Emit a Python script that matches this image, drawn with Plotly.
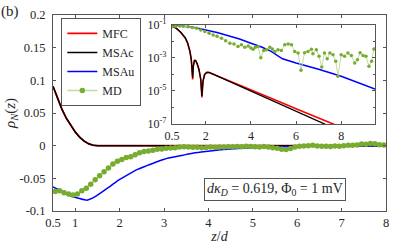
import plotly.graph_objects as go

# ---------------- main panel data ----------------
z_main = [0.5, 0.6, 0.7, 0.8, 0.9, 1.0, 1.1, 1.2, 1.3, 1.4, 1.5, 2, 3, 4, 5, 6, 7, 8]
mfc_main = [0.091, 0.072, 0.056, 0.042, 0.031, 0.021, 0.013, 0.007, 0.003, 0.0008, 0.0, 0, 0, 0, 0, 0, 0, 0]
msac_main = [0.091, 0.072, 0.056, 0.042, 0.031, 0.021, 0.013, 0.007, 0.003, 0.0008, 0.0, 0, 0, 0, 0, 0, 0, 0]

z_msau = [0.5, 0.7, 0.9, 1.1, 1.26, 1.4, 1.56, 1.75, 1.93, 2.15, 2.38, 2.6, 2.83, 3.1, 3.43,
          3.7, 4.04, 4.5, 5, 5.5, 6, 7, 8]
msau_main = [-0.063, -0.070, -0.077, -0.081, -0.0835, -0.080, -0.073, -0.064, -0.055, -0.046,
             -0.037, -0.031, -0.025, -0.019, -0.0145, -0.011, -0.008, -0.005, -0.003, -0.0015,
             -0.0008, -0.0003, -0.0001]

z_md = [0.55, 0.65, 0.75, 0.85, 0.95, 1.05, 1.15, 1.25, 1.35, 1.45, 1.55, 1.65, 1.75, 1.85, 1.95,
        2.05, 2.15, 2.25, 2.35, 2.45, 2.55, 2.65, 2.75, 2.85, 2.95, 3.05, 3.15, 3.25, 3.35, 3.45,
        3.55, 3.65, 3.75, 3.85, 3.95, 4.05, 4.15, 4.25, 4.35, 4.45, 4.55, 4.65, 4.75, 4.85, 4.95,
        5.05, 5.15, 5.25, 5.35, 5.45, 5.55, 5.65, 5.75, 5.85, 5.95, 6.05, 6.15, 6.25, 6.35, 6.45,
        6.55, 6.65, 6.75, 6.85, 6.95, 7.05, 7.15, 7.25, 7.35, 7.45, 7.55, 7.65, 7.75, 7.85, 7.95]
md_main = [-0.070, -0.069, -0.072, -0.074, -0.0757, -0.074, -0.069, -0.065, -0.059, -0.052,
           -0.046, -0.040, -0.034, -0.028, -0.024, -0.021, -0.018, -0.017, -0.014, -0.011,
           -0.009, -0.008, -0.007, -0.0055, -0.005, -0.004, -0.0035, -0.003, -0.002, -0.0018,
           -0.002, -0.0025, -0.0023, -0.003, -0.0028, -0.0022, -0.0025, -0.002, -0.0022, -0.0015,
           -0.0018, -0.0012, -0.0015, -0.001, -0.0012, -0.0015, -0.002, -0.0012, -0.002, -0.003,
           -0.004, -0.0055, -0.006, -0.0045, -0.002, -0.001, -0.0005, 0.0, 0.0005, -0.0005,
           -0.001, -0.0008, -0.0012, -0.0005, -0.001, -0.0003, 0.0005, 0.0008, 0.0012, 0.0025,
           0.002, 0.0035, 0.003, 0.0015, 0.001]

# ---------------- inset data (|rho_N|, log scale) ----------------
z_in_mfc = [0.5, 0.7, 0.9, 1.0, 1.1, 1.2, 1.3, 1.36, 1.40, 1.42, 1.45, 1.5, 1.55, 1.62, 1.7, 1.78,
            1.83, 1.88, 1.95, 2.05, 2.15, 3, 4, 5, 6, 7, 7.7]
in_mfc = [8.9e-2, 6.3e-2, 3.5e-2, 2.5e-2, 1.6e-2, 7.9e-3, 2.5e-3, 7.9e-4, 1.6e-4, 5.0e-5, 3.2e-4,
          7.1e-4, 7.1e-4, 4.5e-4, 2.0e-4, 5.0e-5, 4.0e-6, 4.0e-5, 1.0e-4, 1.35e-4, 1.32e-4,
          4.5e-5, 1.17e-5, 3.2e-6, 8.5e-7, 2.3e-7, 9.3e-8]
z_in_msac = [0.5, 0.7, 0.9, 1.0, 1.1, 1.2, 1.3, 1.36, 1.40, 1.42, 1.45, 1.5, 1.55, 1.62, 1.7, 1.78,
             1.83, 1.88, 1.95, 2.05, 2.15, 3, 4, 5, 6, 7, 7.3]
in_msac = [8.9e-2, 6.3e-2, 3.5e-2, 2.5e-2, 1.6e-2, 7.9e-3, 2.5e-3, 7.9e-4, 1.6e-4, 6.3e-5, 3.2e-4,
           7.1e-4, 7.1e-4, 4.5e-4, 2.0e-4, 5.0e-5, 5.0e-6, 4.0e-5, 1.0e-4, 1.35e-4, 1.32e-4,
           4.0e-5, 1.0e-5, 2.5e-6, 6.3e-7, 1.45e-7, 9.5e-8]
z_in_msau = [0.5, 1, 1.5, 2, 2.5, 3, 3.5, 4, 4.5, 4.9, 5.2, 5.4, 6, 7, 8, 9, 9.5]
in_msau = [8.9e-2, 8.5e-2, 7.1e-2, 5.0e-2, 3.55e-2, 2.24e-2, 1.41e-2, 7.9e-3, 4.5e-3, 2.5e-3,
           1.41e-3, 8.9e-4, 5.0e-4, 2.1e-4, 7.9e-5, 2.5e-5, 1.32e-5]
z_in_md = [0.5, 0.65, 0.85, 1.0, 1.22, 1.4, 1.59, 1.78, 1.96, 2.15, 2.33, 2.5, 2.7, 2.88, 3.07,
           3.25, 3.43, 3.58, 3.73, 3.88, 4.0, 4.1, 4.2, 4.32, 4.44, 4.57, 4.69, 4.84, 4.95, 5.06,
           5.2, 5.35, 5.5, 5.65, 5.8, 5.94, 6.09, 6.22, 6.38, 6.53, 6.68, 6.75, 6.9, 7.02, 7.14,
           7.26, 7.38, 7.5, 7.64, 7.76, 7.86, 8.0, 8.15, 8.3, 8.45, 8.6, 8.72, 8.84, 8.97, 9.1,
           9.23, 9.35, 9.45]
in_md = [7.9e-2, 8.3e-2, 8.7e-2, 8.5e-2, 7.9e-2, 7.1e-2, 6.3e-2, 5.0e-2, 4.0e-2, 3.2e-2, 2.5e-2,
         2.1e-2, 1.6e-2, 1.1e-2, 7.9e-3, 7.1e-3, 5.0e-3, 6.3e-3, 4.5e-3, 5.4e-3, 4.0e-3, 3.4e-3,
         4.5e-3, 5.0e-3, 1.05e-3, 2.8e-3, 3.2e-3, 4.5e-3, 3.55e-3, 2.5e-3, 3.2e-3, 2.8e-3, 6.3e-3,
         7.1e-3, 6.3e-3, 2.5e-3, 2.0e-3, 1.8e-4, 2.1e-3, 2.5e-3, 3.4e-3, 1.8e-3, 3.2e-3, 1.26e-3,
         2.8e-4, 2.0e-3, 8.9e-4, 2.0e-3, 1.58e-3, 6.3e-4, 7.9e-5, 1.58e-3, 1.26e-3, 2.0e-3,
         1.41e-3, 5.0e-4, 7.9e-4, 2.1e-3, 1.41e-3, 1.26e-3, 3.2e-4, 6.3e-4, 3.55e-3]

main_xticks = [0.5, 1, 2, 3, 4, 5, 6, 7, 8]
main_xticktext = ["0.5", "1", "2", "3", "4", "5", "6", "7", "8"]
main_yticks = [-0.1, -0.05, 0, 0.05, 0.1, 0.15, 0.2]
main_yticktext = ["-0.1", "-0.05", "0", "0.05", "0.1", "0.15", "0.2"]
inset_xticks = [0.5, 2, 4, 6, 8]
inset_xticktext = ["0.5", "2", "4", "6", "8"]
inset_yticks = [1e-1, 1e-3, 1e-5, 1e-7]
inset_yticktext = ["10<sup>-1</sup>", "10<sup>-3</sup>", "10<sup>-5</sup>", "10<sup>-7</sup>"]

RED = "#ff0000"
BLACK = "#000000"
BLUE = "#0000ff"
MDLINE = "#c2dca0"
MDMARK = "#77ac30"
AX = "#555555"
TXT = "#262626"
FONT = "Liberation Serif, Times New Roman, serif"

fig = go.Figure()

# main panel
fig.add_trace(go.Scatter(x=z_main, y=mfc_main, mode="lines", name="MFC",
                         line=dict(color=RED, width=1.8)))
fig.add_trace(go.Scatter(x=z_main, y=msac_main, mode="lines", name="MSAc",
                         line=dict(color=BLACK, width=1.5)))
fig.add_trace(go.Scatter(x=z_msau, y=msau_main, mode="lines", name="MSAu",
                         line=dict(color=BLUE, width=1.5, shape="spline", smoothing=0.5)))
fig.add_trace(go.Scatter(x=z_md, y=md_main, mode="lines+markers", name="MD",
                         line=dict(color=MDLINE, width=1.5),
                         marker=dict(color=MDMARK, size=5.5)))

# inset
fig.add_trace(go.Scatter(x=z_in_mfc, y=in_mfc, mode="lines", xaxis="x2", yaxis="y2",
                         showlegend=False, line=dict(color=RED, width=1.6)))
fig.add_trace(go.Scatter(x=z_in_msac, y=in_msac, mode="lines", xaxis="x2", yaxis="y2",
                         showlegend=False, line=dict(color=BLACK, width=1.3)))
fig.add_trace(go.Scatter(x=z_in_msau, y=in_msau, mode="lines", xaxis="x2", yaxis="y2",
                         showlegend=False, line=dict(color=BLUE, width=1.5)))
fig.add_trace(go.Scatter(x=z_in_md, y=in_md, mode="lines+markers", xaxis="x2", yaxis="y2",
                         showlegend=False, line=dict(color=MDLINE, width=1),
                         marker=dict(color=MDMARK, size=3.5)))

axis_common = dict(showgrid=False, zeroline=False, showline=True, linecolor=AX, linewidth=1,
                   mirror="ticks", ticks="inside", ticklen=3, tickcolor=AX, automargin=False)

fig.update_layout(
    width=407, height=244,
    margin=dict(l=53, r=21, t=15, b=33),
    paper_bgcolor="white", plot_bgcolor="white",
    font=dict(family=FONT, size=12, color=TXT),
    xaxis=dict(range=[0.5, 8], tickvals=main_xticks, ticktext=main_xticktext,
               ticklabelstandoff=0,
               tickfont=dict(family=FONT, size=12.5, color=TXT),
               title=dict(text="<i>z</i>/<i>d</i>", font=dict(family=FONT, size=14, color=TXT),
                          standoff=0),
               **axis_common),
    yaxis=dict(range=[-0.1, 0.2], tickvals=main_yticks, ticktext=main_yticktext,
               ticklabelstandoff=4,
               tickfont=dict(family=FONT, size=12.5, color=TXT),
               title=dict(text="<i>ρ<sub>N</sub></i>(<i>z</i>)",
                          font=dict(family=FONT, size=15, color=TXT), standoff=0),
               **axis_common),
    xaxis2=dict(domain=[0.357, 0.967], anchor="y2", range=[0.5, 9.5],
                tickvals=inset_xticks, ticktext=inset_xticktext, ticklabelstandoff=1,
                tickfont=dict(family=FONT, size=12, color=TXT), **axis_common),
    yaxis2=dict(domain=[0.444, 0.949], anchor="x2", type="log", range=[-7, -1],
                tickvals=inset_yticks, ticktext=inset_yticktext, ticklabelstandoff=2,
                tickfont=dict(family=FONT, size=12, color=TXT),
                minor=dict(tickvals=[1e-2, 1e-4, 1e-6], ticks="inside", ticklen=2, tickcolor=AX),
                **axis_common),
    legend=dict(x=0.025, y=0.985, xanchor="left", yanchor="top",
                bgcolor="white", bordercolor=AX, borderwidth=1,
                itemwidth=30,
                font=dict(family=FONT, size=12, color=TXT)),
    showlegend=True,
)

fig.add_annotation(text="<i>dκ<sub>D</sub></i> = 0.619, Φ<sub>0</sub> = 1 mV",
                   xref="paper", yref="paper", x=0.668, y=0.11, xanchor="center", yanchor="middle",
                   showarrow=False, bgcolor="white", bordercolor=AX, borderwidth=1, borderpad=2,
                   font=dict(family=FONT, size=14, color=TXT))
fig.add_annotation(text="(b)", xref="paper", yref="paper", x=-0.162, y=1.07,
                   xanchor="left", yanchor="top", showarrow=False,
                   font=dict(family=FONT, size=15, color=TXT))

fig.write_html("out.html", config={"displayModeBar": False},
               post_script="document.body.style.margin='0px';")
